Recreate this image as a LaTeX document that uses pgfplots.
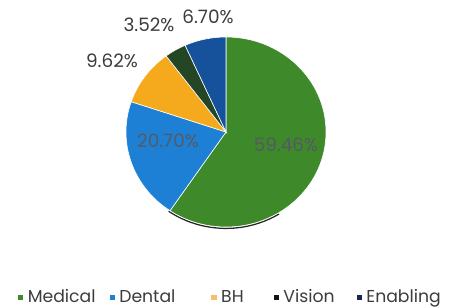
\documentclass[border=0pt]{standalone}
\usepackage{pgfplots}
\pgfplotsset{compat=1.18}
\usepackage{pgfplotstable}
\usepackage{fontspec}
\setmainfont{Poppins}
\definecolor{cMed}{RGB}{62,137,42}
\definecolor{cDen}{RGB}{30,128,212}
\definecolor{cBH}{RGB}{244,170,28}
\definecolor{cVis}{RGB}{36,70,36}
\definecolor{cEna}{RGB}{22,82,156}
\definecolor{lBH}{RGB}{246,190,110}
\definecolor{lVis}{RGB}{20,20,20}
\definecolor{lEna}{RGB}{20,40,80}
\definecolor{txt}{RGB}{60,60,60}
\definecolor{intxt}{RGB}{85,90,100}
\pgfplotstableread{
name value
Medical 59.46
Dental 20.70
BH 9.62
Vision 3.52
Enabling 6.70
}\piedata
\pgfplotstablegetelem{0}{value}\of\piedata\let\vA\pgfplotsretval
\pgfplotstablegetelem{1}{value}\of\piedata\let\vB\pgfplotsretval
\pgfplotstablegetelem{2}{value}\of\piedata\let\vC\pgfplotsretval
\pgfplotstablegetelem{3}{value}\of\piedata\let\vD\pgfplotsretval
\pgfplotstablegetelem{4}{value}\of\piedata\let\vE\pgfplotsretval
\pgfmathsetmacro\aO{90}
\pgfmathsetmacro\aA{\aO-3.6*\vA}
\pgfmathsetmacro\aB{\aA-3.6*\vB}
\pgfmathsetmacro\aC{\aB-3.6*\vC}
\pgfmathsetmacro\aD{\aC-3.6*\vD}
\pgfmathsetmacro\aE{\aD-3.6*\vE}
\begin{document}
\begin{tikzpicture}
\begin{axis}[
  scale only axis, width=449bp, height=308bp,
  xmin=0, xmax=449, ymin=0, ymax=308,
  hide axis, clip=false,
  legend columns=5,
  legend style={at={(axis cs:17.8,11)}, anchor=west, draw=none, fill=none,
    inner sep=0pt, font=\fontsize{17.3}{19}\selectfont\color{txt},
    /tikz/every odd column/.style={column sep=3bp},
    /tikz/column 2/.style={column sep=12bp},
    /tikz/column 4/.style={column sep=34bp},
    /tikz/column 6/.style={column sep=28bp},
    /tikz/column 8/.style={column sep=20bp}},
]
\path (axis cs:0,0) rectangle (axis cs:449,308);
% shadow
\draw[black!85, line width=1.3pt] (axis cs:226,174.6) ++(-125:100bp and 95bp) arc[start angle=-125, end angle=-58, x radius=100bp, y radius=95bp];
% slices
\fill[cMed, draw=white, line width=0.6pt] (axis cs:226,176) -- +(\aO:100bp and 95bp) arc[start angle=\aO, end angle=\aA, x radius=100bp, y radius=95bp] -- cycle;
\fill[cDen, draw=white, line width=0.6pt] (axis cs:226,176) -- +(\aA:100bp and 95bp) arc[start angle=\aA, end angle=\aB, x radius=100bp, y radius=95bp] -- cycle;
\fill[cBH, draw=white, line width=0.6pt] (axis cs:226,176) -- +(\aB:100bp and 95bp) arc[start angle=\aB, end angle=\aC, x radius=100bp, y radius=95bp] -- cycle;
\fill[cVis, draw=white, line width=0.6pt] (axis cs:226,176) -- +(\aC:100bp and 95bp) arc[start angle=\aC, end angle=\aD, x radius=100bp, y radius=95bp] -- cycle;
\fill[cEna, draw=white, line width=0.6pt] (axis cs:226,176) -- +(\aD:100bp and 95bp) arc[start angle=\aD, end angle=\aE, x radius=100bp, y radius=95bp] -- cycle;
% labels
\node[intxt, font=\fontsize{18.5}{20}\selectfont] at (axis cs:286,163) {59.46\%};
\node[intxt, font=\fontsize{18.5}{20}\selectfont] at (axis cs:168,167) {20.70\%};
\node[txt, font=\fontsize{18.5}{20}\selectfont] at (axis cs:112,247) {9.62\%};
\node[txt, font=\fontsize{18.5}{20}\selectfont] at (axis cs:149,283) {3.52\%};
\node[txt, font=\fontsize{18.5}{20}\selectfont] at (axis cs:208,291) {6.70\%};
% legend
\addlegendimage{color=cMed, legend image code/.code={\fill (0bp,-2.2bp) rectangle (4.4bp,2.2bp);}}
\addlegendentry{Medical}
\addlegendimage{color=cDen, legend image code/.code={\fill (0bp,-2.2bp) rectangle (4.4bp,2.2bp);}}
\addlegendentry{Dental}
\addlegendimage{color=lBH, legend image code/.code={\fill (0bp,-2.2bp) rectangle (4.4bp,2.2bp);}}
\addlegendentry{BH}
\addlegendimage{color=lVis, legend image code/.code={\fill (0bp,-2.2bp) rectangle (4.4bp,2.2bp);}}
\addlegendentry{Vision}
\addlegendimage{color=lEna, legend image code/.code={\fill (0bp,-2.2bp) rectangle (4.4bp,2.2bp);}}
\addlegendentry{Enabling}
\end{axis}
\end{tikzpicture}
\end{document}
